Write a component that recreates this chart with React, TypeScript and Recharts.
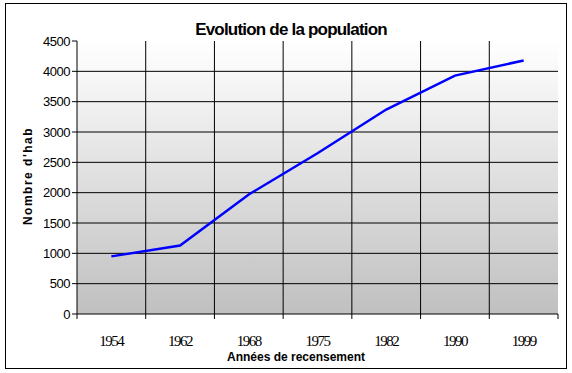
import { LineChart, Line, XAxis, YAxis, CartesianGrid, ReferenceLine, Customized } from "recharts";

const years = ["1954", "1962", "1968", "1975", "1982", "1990", "1999"];
const population = [950, 1130, 1970, 2650, 3370, 3930, 4180];
const yTicks = [0, 500, 1000, 1500, 2000, 2500, 3000, 3500, 4000, 4500];
// slot boundaries (grid lines / tick marks) and slot centres (year labels)
const slotTicks = [0, 1, 2, 3, 4, 5, 6, 7];
const labelTicks = years.map((_, i) => i + 0.5);
const xTicks = [...slotTicks, ...labelTicks].sort((a, b) => a - b);

const data = years.map((year, i) => ({ slot: i + 0.5, year, pop: population[i] }));

const sans = "'Liberation Sans', Arial, sans-serif";
const serif = "'Liberation Serif', 'Times New Roman', serif";

function XTick({ x, y, payload }: any) {
  const v = payload.value;
  if (Number.isInteger(v)) {
    return <line x1={x} x2={x} y1={y} y2={y + 5} stroke="#000" />;
  }
  return (
    <text x={x} y={y + 27} textAnchor="middle" dominantBaseline="central"
          fontFamily={serif} fontSize={15} letterSpacing={-1.5} fill="#000">
      {years[Math.floor(v)]}
    </text>
  );
}

function Frame() {
  return (
    <g>
      <rect x={5.5} y={3.5} width={561} height={365} fill="none" stroke="#000" />
      <text x={291} y={29} textAnchor="middle" dominantBaseline="central"
            fontFamily={sans} fontWeight="bold" fontSize={17} letterSpacing={-0.8} fill="#000">
        Evolution de la population
      </text>
      <text x={296} y={357} textAnchor="middle" dominantBaseline="central"
            fontFamily={sans} fontWeight="bold" fontSize={12} fill="#000">
        Années de recensement
      </text>
      <text transform="translate(28,176) rotate(-90)" textAnchor="middle" dominantBaseline="central"
            fontFamily={sans} fontWeight="bold" fontSize={12} letterSpacing={1.5} fill="#000">
        Nombre d'hab
      </text>
    </g>
  );
}

export default function App() {
  return (
    <div style={{ position: "absolute", left: 0, top: 0, width: 572, height: 373, background: "#fff" }}>
      <LineChart width={572} height={373} data={data}
                 margin={{ top: 41, right: 14, left: 27, bottom: 0 }}>
        <defs>
          <linearGradient id="plotBg" x1="0" y1="0" x2="0" y2="1">
            <stop offset="0%" stopColor="#ffffff" />
            <stop offset="100%" stopColor="#c0c0c0" />
          </linearGradient>
        </defs>
        <CartesianGrid horizontal={false} vertical={false} fill="url(#plotBg)" fillOpacity={1} />
        {yTicks.filter((t) => t > 0 && t < 4500).map((t) => (
          <ReferenceLine key={"h" + t} y={t} stroke="#000" strokeWidth={1} />
        ))}
        {slotTicks.slice(1, -1).map((t) => (
          <ReferenceLine key={"v" + t} x={t} stroke="#000" strokeWidth={1} />
        ))}
        <XAxis dataKey="slot" type="number" domain={[0, 7]} ticks={xTicks} interval={0}
               stroke="#000" tickLine={false} tickSize={0} tickMargin={0} height={59}
               tick={<XTick />} />
        <YAxis domain={[0, 4500]} ticks={yTicks} width={50} stroke="#000" tickSize={5}
               interval={0}
               tick={{ fill: "#000", fontSize: 13, fontFamily: sans, letterSpacing: -0.5 }} />
        <Line dataKey="pop" type="linear" stroke="#0000ff" strokeWidth={2.5}
              dot={false} isAnimationActive={false} />
        <Customized component={Frame} />
      </LineChart>
    </div>
  );
}
